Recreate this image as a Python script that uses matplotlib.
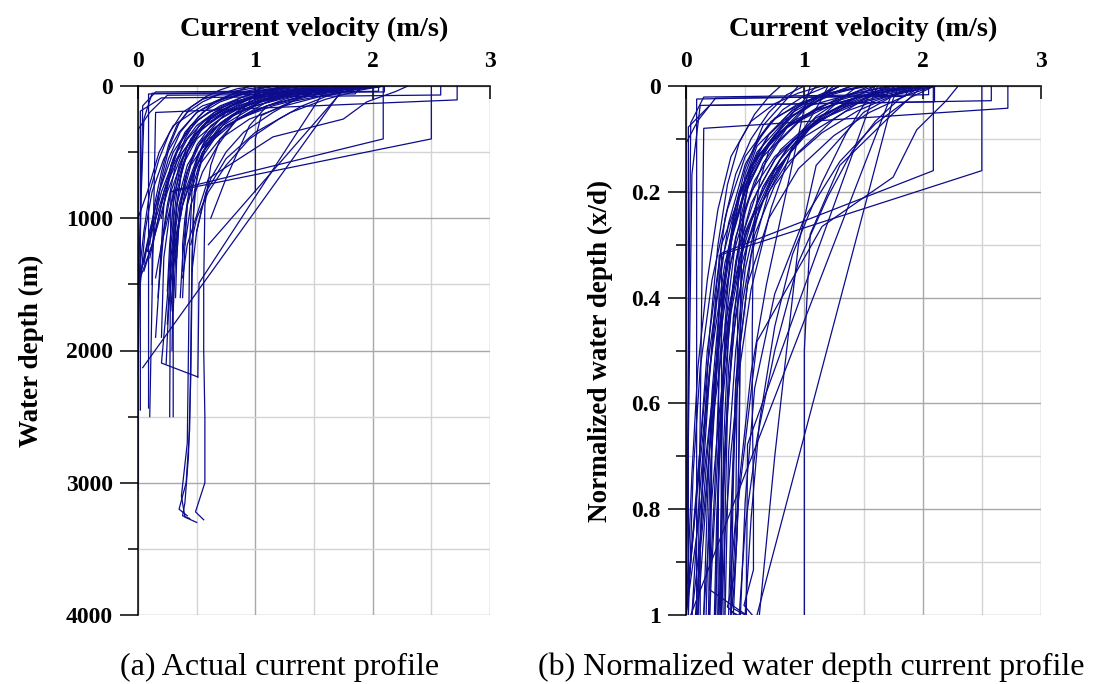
import matplotlib
matplotlib.use("Agg")
import matplotlib.pyplot as plt
from matplotlib.ticker import MultipleLocator, FixedLocator

# ---------------- data: measured current profiles ----------------
# each profile: water depth (m) and current speed (m/s)
depth_m = [
    [0, 30, 80, 150, 250, 400, 600, 900, 1500, 2000, 2500, 3000, 3220, 3280],
    [0, 50, 120, 200, 300, 450, 700, 1000, 1500, 2200, 2800, 3150, 3250, 3270],
    [0, 40, 100, 200, 350, 550, 800, 1200, 2000, 2700, 3100, 3260, 3300],
    [0, 60, 150, 300, 500, 800, 1300, 2000, 2600, 3000, 3200, 3250],
    [0, 60, 70, 200, 330, 3050],
    [0, 400, 790, 2500],
    [0, 400, 800, 2500],
    [0, 105, 200, 2500],
    [0, 68, 90, 190, 2450],
    [0, 40, 60, 2435],
    [0, 30, 2130],
    [0, 20, 1490, 2200],
    [0, 100, 250, 500, 800, 1200, 1600, 2095, 2200],
    [0, 50, 120, 224, 400, 800],
    [0, 50, 150, 300, 500, 700, 1000],
    [0, 20, 50, 100, 200, 300, 500, 800, 1200, 1500],
    [0, 20, 50, 100, 200, 300, 500, 800, 1200, 1500],
    [0, 20, 50, 100, 200, 300, 500, 800, 1100, 1500],
    [0, 30, 80, 150, 250, 400, 600, 900, 1300, 1800],
    [0, 30, 80, 150, 250, 400, 600, 900, 1300, 1900],
    [0, 30, 80, 150, 250, 400, 600, 900, 1400, 2000],
    [0, 30, 80, 150, 250, 400, 600, 900, 1300, 1700],
    [0, 30, 80, 150, 250, 400, 600, 900, 1200, 1450],
    [0, 30, 80, 150, 250, 400, 600, 900, 1200, 1400],
    [0, 25, 60, 120, 200, 350, 550, 800, 1100, 1300],
    [0, 25, 60, 120, 200, 350, 550, 800, 1100, 1350],
    [0, 25, 60, 120, 200, 350, 550, 800, 1100, 1250],
    [0, 40, 100, 200, 300, 450, 650, 900, 1200, 1600],
    [0, 40, 100, 200, 300, 450, 650, 900, 1200, 1500],
    [0, 40, 100, 200, 300, 450, 650, 900, 1200, 1550],
    [0, 20, 60, 120, 200, 300, 450, 650, 900, 1200],
    [0, 20, 60, 120, 200, 300, 450, 650, 900, 1000],
    [0, 30, 80, 150, 250, 400, 600, 900, 1300, 1600],
    [0, 30, 80, 150, 250, 400, 600, 900, 1200, 1400],
    [0, 50, 120, 220, 350, 500, 700, 1000, 1300, 1500],
    [0, 50, 120, 220, 350, 500, 700, 1000, 1300, 1600],
    [0, 20, 50, 100, 200, 350, 550, 800, 1100, 1500],
    [0, 20, 50, 100, 200, 350, 550, 800, 1100, 1500],
    [0, 30, 80, 160, 280, 450, 700, 1000, 1200, 1400],
    [0, 30, 80, 160, 280, 450, 700, 1000, 1300, 1500],
    [0, 50, 150, 300, 500, 800, 1000],
    [0, 40, 120, 250, 385, 700, 1200, 1450],
    [0, 30, 1200],
    [0, 45, 55, 250, 1500],
    [0, 35, 45, 150, 2150],
    [0, 30, 80, 150, 250, 400, 600, 800, 1000, 1200],
    [0, 40, 100, 200, 350, 500, 700, 900, 1100],
    [0, 30, 80, 150, 300, 500, 700, 900, 1100, 1300],
    [0, 20, 60, 120, 250, 400, 600, 900, 1200, 1600],
    [0, 25, 70, 150, 300, 500, 800, 1100, 1400, 1700],
    [0, 30, 100, 200, 350, 550, 800, 1100, 1500, 1900],
    [0, 30, 100, 200, 350, 550, 800, 1100, 1400],
    [0, 20, 50, 100, 200, 300, 450, 650, 900, 1300],
    [0, 40, 120, 250, 400, 600, 900, 1300, 1700, 2100],
    [0, 50, 150, 300, 450, 650, 900, 1200],
]
speed_ms = [
    [2.0, 1.7, 1.4, 1.1, 0.85, 0.7, 0.62, 0.57, 0.56, 0.56, 0.57, 0.57, 0.49, 0.56],
    [1.75, 1.4, 1.05, 0.85, 0.7, 0.58, 0.5, 0.47, 0.46, 0.45, 0.43, 0.40, 0.38, 0.44],
    [1.55, 1.25, 1.0, 0.75, 0.6, 0.5, 0.46, 0.44, 0.43, 0.42, 0.37, 0.40, 0.50],
    [1.9, 1.5, 1.1, 0.75, 0.55, 0.48, 0.46, 0.45, 0.44, 0.41, 0.35, 0.42],
    [1.9, 1.85, 0.25, 0.1, 0.0, 0.0],
    [2.09, 2.09, 0.3, 0.3],
    [2.5, 2.5, 0.28, 0.27],
    [2.72, 2.72, 0.15, 0.1],
    [2.58, 2.58, 0.2, 0.02, 0.02],
    [2.05, 2.05, 0.09, 0.09],
    [1.75, 1.74, 0.04],
    [1.62, 1.6, 0.52, 0.51],
    [1.3, 0.9, 0.6, 0.42, 0.33, 0.28, 0.25, 0.2, 0.51],
    [2.0, 1.7, 1.3, 1.05, 1.0, 1.0],
    [1.9, 1.5, 1.1, 0.95, 0.85, 0.75, 0.62],
    [2.1, 1.8, 1.45, 1.1, 0.75, 0.55, 0.38, 0.25, 0.12, 0.0],
    [2.05, 1.6, 1.25, 0.95, 0.65, 0.5, 0.33, 0.2, 0.08, 0.0],
    [1.9, 1.5, 1.2, 0.9, 0.6, 0.45, 0.3, 0.18, 0.1, 0.0],
    [2.0, 1.6, 1.3, 1.0, 0.75, 0.55, 0.42, 0.33, 0.28, 0.25],
    [1.7, 1.4, 1.1, 0.85, 0.62, 0.45, 0.35, 0.28, 0.22, 0.2],
    [1.5, 1.25, 1.0, 0.8, 0.6, 0.46, 0.38, 0.33, 0.3, 0.29],
    [2.1, 1.75, 1.45, 1.15, 0.85, 0.6, 0.45, 0.36, 0.32, 0.3],
    [1.8, 1.45, 1.15, 0.9, 0.7, 0.5, 0.38, 0.28, 0.2, 0.15],
    [1.6, 1.3, 1.0, 0.78, 0.58, 0.42, 0.3, 0.2, 0.12, 0.05],
    [1.3, 1.1, 0.9, 0.7, 0.55, 0.4, 0.3, 0.22, 0.15, 0.1],
    [1.2, 1.0, 0.82, 0.65, 0.5, 0.36, 0.26, 0.18, 0.1, 0.05],
    [2.0, 1.7, 1.35, 1.0, 0.75, 0.5, 0.34, 0.22, 0.12, 0.08],
    [1.7, 1.5, 1.25, 0.95, 0.75, 0.58, 0.48, 0.42, 0.4, 0.38],
    [1.45, 1.3, 1.1, 0.85, 0.68, 0.52, 0.42, 0.35, 0.3, 0.27],
    [1.1, 1.0, 0.85, 0.65, 0.52, 0.42, 0.35, 0.3, 0.27, 0.25],
    [1.0, 0.85, 0.7, 0.55, 0.42, 0.33, 0.26, 0.2, 0.14, 0.1],
    [1.9, 1.5, 1.1, 0.8, 0.6, 0.45, 0.35, 0.28, 0.22, 0.2],
    [2.1, 1.85, 1.55, 1.25, 0.95, 0.7, 0.52, 0.42, 0.38, 0.36],
    [1.4, 1.15, 0.9, 0.7, 0.52, 0.38, 0.28, 0.22, 0.2, 0.19],
    [1.25, 1.05, 0.85, 0.65, 0.5, 0.42, 0.36, 0.32, 0.3, 0.3],
    [1.6, 1.35, 1.05, 0.8, 0.6, 0.48, 0.4, 0.35, 0.33, 0.32],
    [1.5, 1.2, 0.95, 0.72, 0.5, 0.35, 0.22, 0.12, 0.06, 0.02],
    [1.15, 0.95, 0.75, 0.55, 0.38, 0.27, 0.18, 0.1, 0.05, 0.0],
    [1.75, 1.45, 1.15, 0.9, 0.7, 0.55, 0.45, 0.4, 0.38, 0.38],
    [0.8, 0.7, 0.58, 0.45, 0.35, 0.27, 0.2, 0.15, 0.12, 0.12],
    [1.3, 0.9, 0.55, 0.3, 0.18, 0.08, 0.0],
    [2.3, 2.2, 1.95, 1.75, 1.15, 0.6, 0.42, 0.38],
    [1.8, 1.75, 0.6],
    [2.1, 2.1, 0.12, 0.05, 0.0],
    [1.7, 1.7, 0.15, 0.04, 0.0],
    [2.0, 1.8, 1.6, 1.4, 1.2, 0.95, 0.75, 0.6, 0.5, 0.45],
    [1.6, 1.5, 1.35, 1.15, 0.9, 0.75, 0.62, 0.55, 0.5],
    [1.2, 1.15, 1.05, 0.9, 0.72, 0.55, 0.45, 0.38, 0.33, 0.3],
    [0.95, 0.9, 0.8, 0.65, 0.5, 0.4, 0.32, 0.25, 0.2, 0.17],
    [1.85, 1.6, 1.3, 1.0, 0.72, 0.52, 0.4, 0.34, 0.3, 0.28],
    [1.4, 1.2, 0.95, 0.72, 0.52, 0.38, 0.28, 0.22, 0.18, 0.15],
    [2.1, 1.9, 1.6, 1.3, 1.0, 0.75, 0.58, 0.5, 0.46],
    [2.05, 1.7, 1.35, 1.05, 0.78, 0.62, 0.5, 0.42, 0.36, 0.33],
    [1.55, 1.35, 1.1, 0.85, 0.65, 0.5, 0.38, 0.3, 0.26, 0.24],
    [1.05, 1.0, 0.92, 0.8, 0.68, 0.55, 0.45, 0.4],
]

panel_captions = ["(a) Actual current profile",
                  "(b) Normalized water depth current profile"]
x_title = "Current velocity (m/s)"
y_titles = ["Water depth (m)", "Normalized water depth (x/d)"]

# ---------------- figure ----------------
plt.rcParams['font.family'] = ['Liberation Serif', 'DejaVu Serif']
fig = plt.figure(figsize=(10.94, 6.84), dpi=100)
W, H = 1094, 684
ax1 = fig.add_axes([138 / W, 1 - 615 / H, (490 - 138) / W, (615 - 86) / H])
ax2 = fig.add_axes([686 / W, 1 - 615 / H, (1041 - 686) / W, (615 - 86) / H])

line_color = '#0c0c8c'
for d, v in zip(depth_m, speed_ms):
    dmax = max(d)
    ax1.plot(v, d, color=line_color, lw=0.9, zorder=3)
    ax2.plot(v, [x / dmax for x in d], color=line_color, lw=0.9, zorder=3)


def style(ax, ylim, ymaj, ymin, ylabel, ytick_fmt, ylabelpad):
    ax.set_xlim(0, 3)
    ax.set_ylim(ylim, 0)
    ax.xaxis.tick_top()
    ax.xaxis.set_label_position('top')
    ax.xaxis.set_major_locator(FixedLocator([0, 1, 2, 3]))
    ax.xaxis.set_minor_locator(MultipleLocator(0.5))
    ax.yaxis.set_major_locator(MultipleLocator(ymaj))
    ax.yaxis.set_minor_locator(MultipleLocator(ymin))
    ax.yaxis.set_major_formatter(ytick_fmt)
    ax.grid(which='major', color='#a8a8a8', lw=1.0, zorder=0)
    ax.grid(which='minor', color='#d4d4d4', lw=1.0, zorder=0)
    ax.set_axisbelow(True)
    for s in ['right', 'bottom']:
        ax.spines[s].set_visible(False)
    for s in ['left', 'top']:
        ax.spines[s].set_linewidth(1.1)
        ax.spines[s].set_color('black')
        ax.spines[s].set_zorder(5)
    ax.tick_params(axis='x', which='major', direction='in', length=9,
                   width=1.1, pad=10, labelsize=17, top=True, bottom=False)
    ax.tick_params(axis='x', which='minor', length=0, top=False, bottom=False)
    ax.tick_params(axis='y', which='major', direction='out', length=13,
                   width=1.1, pad=5, labelsize=17)
    ax.tick_params(axis='y', which='minor', direction='out', length=7,
                   width=1.1)
    for lab in ax.get_xticklabels() + ax.get_yticklabels():
        lab.set_fontweight('bold')
    ax.set_xlabel(x_title, fontsize=20.5, fontweight='bold', labelpad=11)
    ax.set_ylabel(ylabel, fontsize=19.5, fontweight='bold',
                  labelpad=ylabelpad)


style(ax1, 4000, 1000, 500, y_titles[0], lambda x, p: f"{x:.0f}", 16)


def norm_fmt(x, p):
    if abs(x) < 1e-9:
        return "0"
    if abs(x - 1) < 1e-9:
        return "1"
    return f"{x:.1f}"


style(ax2, 1.0, 0.2, 0.1, y_titles[1], norm_fmt, 13)

fig.text(280 / W, 1 - 667 / H, panel_captions[0], ha='center', va='center',
         fontsize=23)
fig.text(811 / W, 1 - 667 / H, panel_captions[1], ha='center', va='center',
         fontsize=23)

fig.savefig('out.png', dpi=100)
